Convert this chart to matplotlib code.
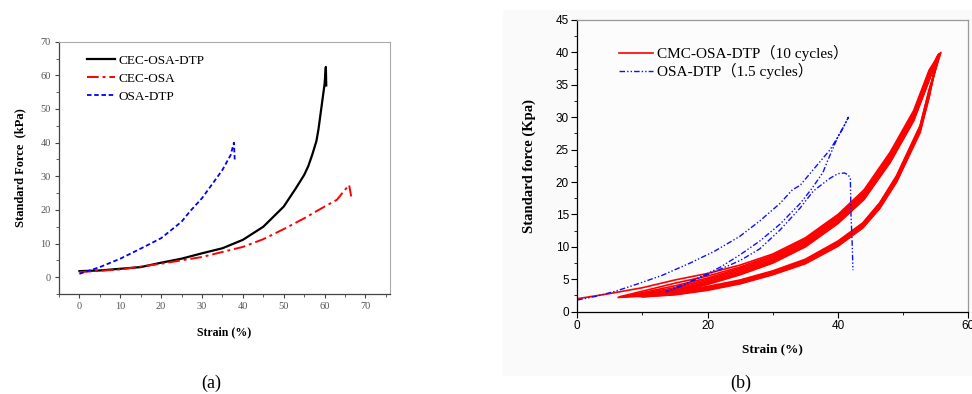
import numpy as np
import matplotlib.pyplot as plt
from matplotlib.patches import Rectangle
from matplotlib.ticker import MultipleLocator

# ---- panel (a) data ----
cec_dtp_strain = [0, 5, 10, 15, 20, 25, 30, 35, 40, 45, 50, 53, 55, 56, 57, 58, 58.5, 59, 59.5, 60, 60.3, 60.4]
cec_dtp_force = [1.8, 2.0, 2.5, 3.0, 4.3, 5.5, 7.1, 8.6, 11.1, 15.0, 21.0, 26.5, 30.4, 33.0, 36.5, 40.5, 44.0, 48.5, 53.0, 57.5, 62.5, 57.0]

cec_osa_strain = [0, 10, 20, 30, 40, 45, 50, 55, 60, 63, 65, 66, 66.5]
cec_osa_force = [1.5, 2.3, 4.0, 6.0, 9.0, 11.3, 14.3, 17.5, 21.0, 23.0, 26.0, 27.4, 24.0]

osa_dtp_strain = [0, 5, 10, 15, 20, 25, 27, 30, 33, 35, 37, 37.8, 38.0]
osa_dtp_force = [1.0, 3.0, 5.5, 8.5, 11.6, 16.5, 19.5, 23.5, 28.5, 31.9, 36.3, 40.0, 35.0]

# ---- panel (b) data ----
cmc_first_strain = [0, 5, 10]
cmc_first_force = [2.0, 2.8, 3.7]
cmc_start_strain = [10, 6.5, 7.0, 7.5, 8.0, 8.5, 9.0, 9.5, 10.0, 10.5]
cmc_start_force = [3.7, 2.3, 2.3, 2.4, 2.4, 2.5, 2.5, 2.5, 2.6, 2.6]
cmc_load_grid = [15, 20, 25, 30, 35, 40, 44, 48, 51.6, 54]
cmc_load_force = [
    [4.9, 5.9, 7.2, 8.9, 11.4, 15.0, 18.8, 24.6, 31.0, 37.3],
    [4.4, 5.5, 6.9, 8.7, 11.2, 14.8, 18.5, 24.3, 30.7, 37.0],
    [4.0, 5.2, 6.7, 8.5, 11.0, 14.6, 18.3, 24.0, 30.4, 36.7],
    [3.7, 5.0, 6.5, 8.3, 10.8, 14.4, 18.1, 23.8, 30.2, 36.5],
    [3.5, 4.8, 6.3, 8.1, 10.6, 14.2, 17.9, 23.6, 30.0, 36.3],
    [3.3, 4.6, 6.1, 7.9, 10.4, 14.0, 17.7, 23.4, 29.8, 36.1],
    [3.2, 4.5, 6.0, 7.8, 10.3, 13.9, 17.6, 23.3, 29.7, 36.0],
    [3.1, 4.4, 5.9, 7.7, 10.2, 13.8, 17.5, 23.2, 29.6, 35.9],
    [3.0, 4.3, 5.8, 7.6, 10.1, 13.7, 17.4, 23.1, 29.5, 35.8],
    [3.0, 4.2, 5.7, 7.5, 10.0, 13.6, 17.3, 23.0, 29.4, 35.7],
]
cmc_peak_strain = [55.6, 55.5, 55.4, 55.3, 55.2, 55.5, 55.7, 55.8, 55.4, 55.6]
cmc_peak_force = [39.8, 39.6, 39.7, 39.5, 39.3, 39.8, 39.9, 40.0, 39.6, 39.8]
cmc_unload_grid = [54, 52.6, 49, 46.4, 43.8, 40, 35, 30, 25, 20, 15, 10]
cmc_unload_force = [
    [34.2, 28.6, 20.9, 16.7, 13.6, 10.8, 8.0, 6.2, 4.8, 3.8, 3.1, 2.6],
    [33.9, 28.3, 20.6, 16.5, 13.4, 10.6, 7.9, 6.1, 4.7, 3.7, 3.0, 2.5],
    [33.6, 28.1, 20.4, 16.3, 13.3, 10.5, 7.8, 6.0, 4.6, 3.6, 2.9, 2.5],
    [33.4, 27.9, 20.2, 16.1, 13.1, 10.3, 7.6, 5.8, 4.4, 3.4, 2.7, 2.4],
    [33.1, 27.6, 20.0, 15.9, 12.9, 10.1, 7.4, 5.7, 4.3, 3.3, 2.6, 2.3],
    [33.8, 28.2, 20.5, 16.4, 13.3, 10.5, 7.8, 6.0, 4.6, 3.6, 2.9, 2.5],
    [34.0, 28.4, 20.7, 16.6, 13.5, 10.7, 7.9, 6.1, 4.7, 3.7, 3.0, 2.5],
    [34.3, 28.7, 21.0, 16.8, 13.7, 10.9, 8.1, 6.3, 4.9, 3.9, 3.1, 2.6],
    [33.3, 27.8, 20.1, 16.0, 13.0, 10.2, 7.5, 5.8, 4.4, 3.4, 2.7, 2.3],
    [33.6, 28.0, 20.3, 16.2, 13.2, 10.4, 7.7, 5.9, 4.5, 3.5, 2.8, 2.4],
]
cmc_end_strain = [6.5, 7.0, 7.5, 8.0, 8.5, 9.0, 9.5, 10.0, 10.5, 6.3]
cmc_end_force = [2.3, 2.3, 2.4, 2.4, 2.5, 2.5, 2.5, 2.6, 2.6, 2.2]

osa_load1_strain = [0, 3, 6, 9.6, 13, 17.3, 21, 24.9, 28, 31.1, 33, 34.2, 36.2, 38.8, 40.6, 41.6]
osa_load1_force = [1.8, 2.4, 3.2, 4.4, 5.6, 7.5, 9.3, 11.6, 14.0, 16.7, 18.8, 19.5, 21.9, 25.0, 28.0, 30.0]
osa_unload_strain = [41.6, 41.0, 40.0, 38.5, 37.7, 36.0, 34.2, 31.1, 28, 25, 22, 20, 17, 15, 13.6]
osa_unload_force = [30.0, 28.8, 27.0, 23.5, 21.5, 19.0, 16.7, 13.5, 10.9, 8.8, 6.9, 5.9, 4.5, 3.7, 3.1]
osa_load2_strain = [13.6, 15, 17.3, 20, 25, 28, 31.1, 34.2, 36.2, 38, 38.8, 40, 41, 41.6, 41.9, 42.0, 42.2, 42.3]
osa_load2_force = [3.1, 3.5, 4.6, 5.7, 7.9, 9.7, 12.6, 16.0, 18.6, 20.0, 20.6, 21.3, 21.4, 21.1, 20.5, 15.0, 10.0, 6.4]

serif = ['Liberation Serif', 'Noto Sans CJK SC']

fig = plt.figure(figsize=(9.72, 3.94), dpi=100)
fig.patches.append(Rectangle((503 / 972, 1 - 376 / 394), 469 / 972, 366 / 394,
                             transform=fig.transFigure, facecolor='#fafafa',
                             edgecolor='none', zorder=-10))

# ---------------- (a) ----------------
ax1 = fig.add_axes([59 / 972, 1 - 294 / 394, 331 / 972, 252.3 / 394])
ax1.plot(cec_dtp_strain, cec_dtp_force, color='black', lw=1.6, label='CEC-OSA-DTP')
ax1.plot(cec_osa_strain, cec_osa_force, color='red', lw=1.4, dashes=(6, 2, 1.5, 2), label='CEC-OSA')
ax1.plot(osa_dtp_strain, osa_dtp_force, color='blue', lw=1.3, dashes=(2.5, 1.5), label='OSA-DTP')
ax1.set_xlim(-5, 76)
ax1.set_ylim(-5, 70)
ax1.xaxis.set_minor_locator(MultipleLocator(5))
ax1.yaxis.set_major_locator(MultipleLocator(10))
ax1.yaxis.set_minor_locator(MultipleLocator(5))
ax1.set_xticks(np.arange(0, 71, 10))
ax1.tick_params(which='major', direction='out', length=3, width=0.8, color='#444',
                labelsize=7.5, labelcolor='#555', pad=3)
ax1.tick_params(which='minor', direction='out', length=2, width=0.6, color='#444')
for lab in ax1.get_xticklabels() + ax1.get_yticklabels():
    lab.set_family(serif)
for s in ['left', 'bottom']:
    ax1.spines[s].set_color('#444')
    ax1.spines[s].set_linewidth(0.9)
for s in ['top', 'right']:
    ax1.spines[s].set_color('#aaa')
    ax1.spines[s].set_linewidth(0.8)
ax1.set_xlabel('Strain (%)', family=serif, fontweight='bold', fontsize=8.5, labelpad=11)
ax1.set_ylabel('Standard Force  (kPa)', family=serif, fontweight='bold', fontsize=9, labelpad=10)
ax1.legend(loc='upper left', bbox_to_anchor=(0.085, 0.95), frameon=False,
           prop={'family': serif, 'size': 9.5}, handlelength=2.1, handletextpad=0.3,
           labelspacing=0.45, borderpad=0, borderaxespad=0)

# ---------------- (b) ----------------
ax2 = fig.add_axes([577.3 / 972, 1 - 311.7 / 394, 391 / 972, 291.7 / 394])
ax2.set_facecolor('#fcfcfc')
for i in range(len(cmc_start_strain)):
    xs = [cmc_start_strain[i]] + cmc_load_grid + [cmc_peak_strain[i]] + cmc_unload_grid + [cmc_end_strain[i]]
    ys = [cmc_start_force[i]] + cmc_load_force[i] + [cmc_peak_force[i]] + cmc_unload_force[i] + [cmc_end_force[i]]
    if i == 0:
        xs = cmc_first_strain[:-1] + xs
        ys = cmc_first_force[:-1] + ys
    ax2.plot(xs, ys, color='red', lw=1.2, label='CMC-OSA-DTP（10 cycles）' if i == 0 else None)
osa_x = osa_load1_strain + osa_unload_strain[1:] + osa_load2_strain[1:]
osa_y = osa_load1_force + osa_unload_force[1:] + osa_load2_force[1:]
ax2.plot(osa_x, osa_y, color='#1010ff', lw=1.0, dashes=(4, 1.5, 1, 1.5, 1, 1.5),
         label='OSA-DTP（1.5 cycles）')
ax2.set_xlim(0, 60)
ax2.set_ylim(0, 45)
ax2.xaxis.set_major_locator(MultipleLocator(20))
ax2.xaxis.set_minor_locator(MultipleLocator(10))
ax2.yaxis.set_major_locator(MultipleLocator(5))
ax2.yaxis.set_minor_locator(MultipleLocator(2.5))
ax2.tick_params(which='major', direction='out', length=4, width=0.8, labelsize=8.5, pad=2)
ax2.tick_params(which='minor', direction='out', length=2.5, width=0.6)
for lab in ax2.get_xticklabels() + ax2.get_yticklabels():
    lab.set_family('Liberation Sans')
for s in ['left', 'bottom']:
    ax2.spines[s].set_color('black')
    ax2.spines[s].set_linewidth(0.9)
for s in ['top', 'right']:
    ax2.spines[s].set_color('#999')
    ax2.spines[s].set_linewidth(0.9)
ax2.set_xlabel('Strain (%)', family=serif, fontweight='bold', fontsize=9.5, labelpad=8)
ax2.set_ylabel('Standard force (Kpa)', family=serif, fontweight='bold', fontsize=10.5, labelpad=14)
ax2.legend(loc='upper left', bbox_to_anchor=(0.107, 0.915), frameon=False,
           prop={'family': serif, 'size': 11}, handlelength=2.2, handletextpad=0.25,
           labelspacing=0.15, borderpad=0, borderaxespad=0)

fig.text(211 / 972, 1 - 383 / 394, '(a)', family=serif, fontsize=13, ha='center', va='center')
fig.text(741 / 972, 1 - 383 / 394, '(b)', family=serif, fontsize=13, ha='center', va='center')

fig.savefig('out.png', dpi=100)
